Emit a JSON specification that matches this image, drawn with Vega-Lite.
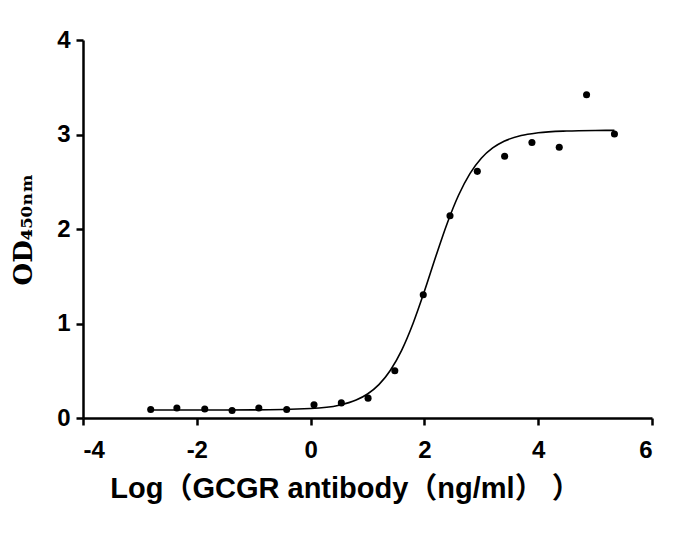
{
  "$schema": "https://vega.github.io/schema/vega-lite/v6.json",
  "autosize": "none",
  "width": 569,
  "height": 378,
  "padding": {"left": 83, "top": 40, "right": 35, "bottom": 119},
  "background": "white",
  "config": {
    "view": {"stroke": null},
    "axis": {
      "grid": false,
      "domainColor": "black",
      "domainWidth": 2.5,
      "tickColor": "black",
      "tickWidth": 2.5,
      "tickSize": 7,
      "labelFont": "Liberation Sans",
      "labelFontWeight": "bold",
      "labelFontSize": 24,
      "labelColor": "black",
      "titleColor": "black"
    }
  },
  "datasets": {
    "points": [
      {"x": -2.81, "y": 0.09},
      {"x": -2.35, "y": 0.106},
      {"x": -1.86, "y": 0.095},
      {"x": -1.38, "y": 0.08},
      {"x": -0.91, "y": 0.106},
      {"x": -0.42, "y": 0.09},
      {"x": 0.06, "y": 0.14},
      {"x": 0.54, "y": 0.16},
      {"x": 1.01, "y": 0.21},
      {"x": 1.48, "y": 0.5},
      {"x": 1.98, "y": 1.305},
      {"x": 2.45, "y": 2.14},
      {"x": 2.93, "y": 2.61},
      {"x": 3.41, "y": 2.77},
      {"x": 3.89, "y": 2.915},
      {"x": 4.37, "y": 2.865},
      {"x": 4.85, "y": 3.42},
      {"x": 5.34, "y": 3.006}
    ],
    "curve": [
      {"x": -2.81, "y": 0.085},
      {"x": -2.0, "y": 0.085},
      {"x": -1.0, "y": 0.086},
      {"x": 0.0, "y": 0.1},
      {"x": 0.5, "y": 0.135},
      {"x": 0.8, "y": 0.19},
      {"x": 1.0, "y": 0.254},
      {"x": 1.2, "y": 0.353},
      {"x": 1.4, "y": 0.503},
      {"x": 1.6, "y": 0.716},
      {"x": 1.8, "y": 1.0},
      {"x": 2.0, "y": 1.341},
      {"x": 2.2, "y": 1.709},
      {"x": 2.4, "y": 2.059},
      {"x": 2.6, "y": 2.357},
      {"x": 2.8, "y": 2.586},
      {"x": 3.0, "y": 2.749},
      {"x": 3.2, "y": 2.858},
      {"x": 3.4, "y": 2.929},
      {"x": 3.7, "y": 2.989},
      {"x": 4.0, "y": 3.018},
      {"x": 4.5, "y": 3.037},
      {"x": 5.0, "y": 3.043},
      {"x": 5.34, "y": 3.044}
    ]
  },
  "layer": [
    {
      "data": {"name": "curve"},
      "mark": {"type": "line", "color": "black", "strokeWidth": 1.6, "interpolate": "monotone"},
      "encoding": {
        "x": {
          "field": "x", "type": "quantitative",
          "scale": {"domain": [-4, 6], "nice": false, "zero": false},
          "axis": {
            "values": [-4, -2, 0, 2, 4, 6],
            "labelExpr": "'' + datum.value",
            "labelPadding": 13,
            "title": "Log（GCGR antibody（ng/ml）  ）",
            "titleFont": "Liberation Sans, Noto Sans CJK SC",
            "titleFontWeight": "bold",
            "titleFontSize": 29,
            "titlePadding": 12,
            "titleX": 262
          }
        },
        "y": {
          "field": "y", "type": "quantitative",
          "scale": {"domain": [0, 4], "nice": false},
          "axis": {
            "values": [0, 1, 2, 3, 4],
            "labelExpr": "'' + datum.value",
            "labelPadding": 6,
            "title": "OD₄₅₀ₙₘ",
            "titleFont": "DejaVu Serif",
            "titleFontWeight": "bold",
            "titleFontSize": 26,
            "titlePadding": 20
          }
        }
      }
    },
    {
      "data": {"name": "points"},
      "mark": {"type": "point", "filled": true, "color": "black", "opacity": 1, "size": 50},
      "encoding": {
        "x": {"field": "x", "type": "quantitative"},
        "y": {"field": "y", "type": "quantitative"}
      }
    }
  ]
}
